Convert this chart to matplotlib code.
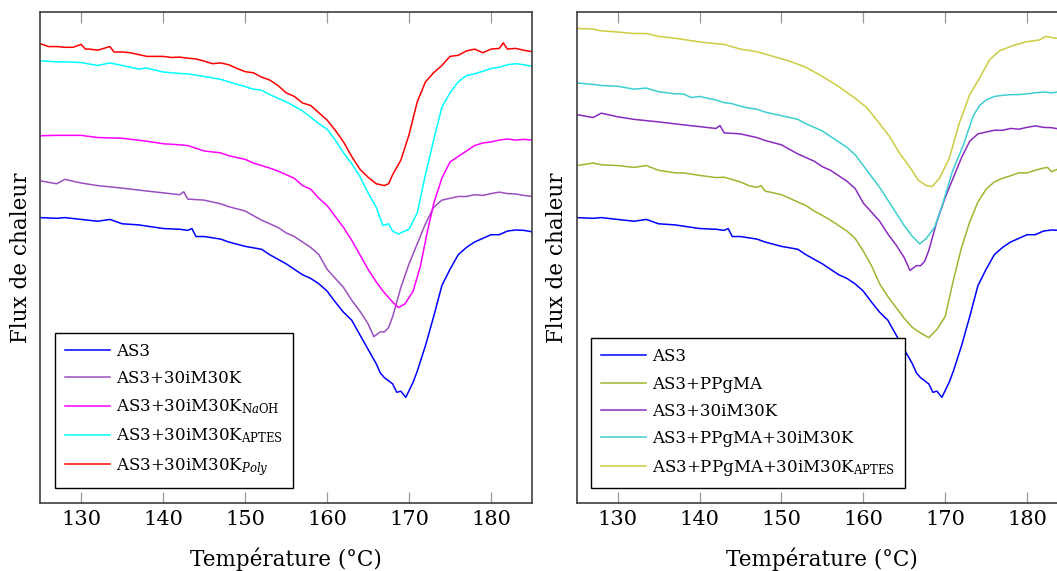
import numpy as np
import matplotlib
matplotlib.use("Agg")
import matplotlib.pyplot as plt

plt.rcParams['font.family'] = ['DejaVu Serif']
plt.rcParams['mathtext.fontset'] = 'dejavuserif'

# courbes DSC (flux en unites arbitraires)
T_as3 = [125, 127, 128, 130, 132, 133.5, 135, 137, 140, 142, 143, 143.5, 144, 145, 147, 148, 150, 152, 153, 155,
         157, 158, 159, 160, 161, 162, 163, 164, 165, 166, 166.5, 167, 168, 168.5, 169, 169.6, 170.5, 171, 172, 173,
         174, 175, 176, 177, 178, 179, 180, 181, 182, 183, 184, 185]
F_as3 = [78.5, 78.3, 78.5, 78.0, 77.5, 78.0, 76.8, 76.5, 75.5, 75.3, 75.0, 75.5, 73.3, 73.3, 72.6, 71.8, 70.6, 69.8, 68.3, 65.8,
         62.8, 61.8, 60.3, 58.3, 55.3, 52.5, 50.3, 46.3, 42.3, 38.3, 35.8, 34.5, 32.8, 30.5, 30.8, 29.1, 33.3, 36.3, 43.3, 51.3,
         59.8, 64.3, 68.3, 70.3, 71.8, 72.8, 73.8, 73.8, 74.8, 75.1, 75.0, 74.6]

T_30i = [125, 127, 128, 130, 132, 135, 138, 140, 142, 142.5, 143, 145, 147, 148, 150, 152, 153, 154, 155, 156,
         157, 158, 159, 160, 161, 162, 163, 164, 165, 165.7, 166.5, 167, 167.5, 168, 169, 170, 171, 172, 173, 174,
         175, 176, 177, 178, 179, 180, 181, 182, 183, 184, 185]
F_30i = [88.6, 87.8, 89.0, 88.0, 87.3, 86.6, 85.8, 85.3, 84.8, 85.6, 83.6, 83.3, 82.3, 81.5, 80.3, 77.8, 76.8, 75.8, 74.3, 73.3,
         71.8, 70.3, 68.3, 64.3, 61.8, 59.3, 55.8, 52.8, 49.3, 45.8, 47.1, 47.1, 48.3, 51.3, 59.3, 65.8, 71.3, 76.8, 81.3, 83.3,
         83.8, 84.3, 84.3, 84.8, 84.6, 85.1, 85.5, 85.1, 85.0, 84.6, 84.3]

T_naoh = [125, 127, 130, 132, 135, 138, 140, 142, 143, 145, 147, 148, 150, 151, 152, 153, 154, 155, 156, 157,
          158, 159, 160, 161, 162, 163, 164, 165, 166, 167, 168, 168.7, 169.5, 170.5, 171.4, 172.2, 173, 174, 175, 176,
          177, 178, 179, 180, 181, 182, 183, 184, 185]
F_naoh = [101.0, 101.1, 101.1, 100.5, 100.3, 99.5, 98.8, 98.5, 98.3, 96.8, 96.3, 95.5, 94.5, 93.5, 92.8, 92.1, 91.3, 90.3, 89.3, 87.3,
          86.3, 83.8, 81.8, 78.8, 75.8, 72.3, 68.3, 64.3, 60.8, 57.8, 55.3, 53.8, 54.8, 58.3, 65.3, 74.3, 82.3, 89.3, 93.8, 95.3,
          96.8, 98.3, 99.0, 99.3, 99.8, 100.1, 99.8, 100.0, 99.8]

T_aptes = [125, 127, 128, 130, 132, 133.5, 135, 137, 138, 140, 142, 143, 145, 147, 148, 150, 151, 152, 153, 154,
           155, 156, 157, 158, 159, 160, 161, 162, 163, 164, 165, 166, 166.8, 167.5, 168, 168.7, 169.5, 170, 171, 172,
           173, 174, 175, 176, 177, 178, 179, 180, 181, 182, 183, 184, 185]
F_aptes = [121.6, 121.3, 121.3, 121.1, 120.3, 121.0, 120.3, 119.3, 119.6, 118.5, 118.1, 118.0, 117.3, 116.5, 115.8, 114.5, 113.8, 113.5, 112.3, 111.3,
           110.3, 109.1, 107.8, 106.1, 104.3, 102.8, 99.8, 96.3, 93.3, 89.8, 85.3, 81.3, 76.3, 76.8, 74.8, 74.0, 74.8, 75.3, 79.8, 90.3,
           99.8, 108.8, 112.8, 115.8, 117.5, 118.0, 118.7, 119.5, 119.8, 120.5, 120.8, 120.5, 120.1]

T_poly = [125, 126, 127, 128, 129, 130, 130.5, 131, 132, 133.5, 134, 135, 136, 137, 138, 140, 141, 142, 143, 144,
          145, 146, 147, 148, 149, 150, 151, 152, 153, 154, 155, 156, 157, 158, 159, 160, 161, 162, 163, 164,
          165, 166, 167, 167.5, 168, 169, 170, 171, 172, 173, 174, 175, 176, 177, 178, 179, 180, 181, 181.5, 182,
          183, 184, 185]
F_poly = [126.3, 125.5, 125.5, 125.3, 125.3, 126.1, 124.8, 124.8, 124.5, 125.5, 124.0, 124.0, 123.8, 123.3, 122.8, 122.8, 122.5, 122.6, 122.3, 122.1,
          121.5, 120.8, 121.0, 120.5, 119.5, 118.6, 118.3, 117.1, 116.3, 114.8, 112.8, 111.8, 110.0, 109.3, 107.3, 105.3, 102.5, 99.3, 95.3, 91.8,
          89.6, 87.8, 87.3, 87.8, 90.3, 94.3, 101.3, 110.3, 115.8, 118.3, 120.3, 122.8, 123.1, 124.3, 124.8, 123.8, 124.8, 125.0, 126.5, 124.8,
          125.0, 124.5, 124.1]

T_ppgma = [125, 127, 128, 130, 132, 133.5, 135, 137, 138, 140, 142, 143, 145, 146, 147, 147.5, 148, 150, 152, 153,
           154, 155, 156, 157, 158, 159, 160, 161, 162, 163, 164, 165, 166, 167, 168, 169, 170, 171, 172, 173,
           174, 175, 176, 177, 178, 179, 180, 181, 182, 182.5, 183, 184, 185]
F_ppgma = [92.8, 93.5, 93.0, 92.8, 92.3, 92.8, 91.5, 90.8, 90.8, 90.1, 89.5, 89.6, 88.3, 87.3, 86.8, 87.3, 85.8, 84.8, 82.8, 81.8,
           80.3, 79.1, 77.8, 76.3, 74.8, 72.8, 69.3, 65.3, 60.3, 56.8, 53.8, 50.8, 48.3, 46.8, 45.5, 47.8, 51.3, 61.3, 70.3, 77.3,
           82.8, 86.3, 88.3, 89.3, 90.0, 90.8, 90.8, 91.5, 92.1, 92.3, 91.1, 92.1, 91.3]

T_pp30i = [125, 127, 128, 130, 132, 133.5, 135, 137, 138, 139, 140, 141, 142, 143, 144, 145, 146, 147, 148, 150,
           152, 153, 154, 155, 156, 157, 158, 159, 160, 161, 162, 163, 164, 165, 166, 166.9, 167.7, 168.7, 169.7, 170.9,
           172.2, 173.4, 174.2, 175, 176, 177, 178, 179, 180, 181, 182, 183, 184, 185]
F_pp30i = [115.5, 115.1, 114.8, 114.6, 113.8, 114.1, 113.1, 112.5, 112.5, 111.5, 111.8, 111.3, 110.8, 110.1, 109.8, 109.1, 108.6, 108.3, 107.5, 106.5,
           105.5, 104.3, 103.3, 102.3, 100.8, 99.3, 97.8, 95.8, 92.8, 89.8, 86.8, 83.3, 79.8, 76.3, 73.3, 71.3, 72.8, 75.8, 82.3, 91.3,
           98.3, 106.3, 109.3, 110.8, 111.8, 112.1, 112.3, 112.3, 112.5, 112.8, 113.0, 112.8, 113.1, 112.8]

T_pp30i_aptes = [125, 127, 128, 130, 132, 133.5, 135, 137, 139, 141, 143, 145, 147, 149, 151, 153, 155, 157, 159, 160.4,
                 162, 163.2, 164.4, 165.7, 166.7, 167.7, 168.4, 169.3, 170.5, 171.7, 173, 174.2, 175.4, 176.6, 178.3, 179.9, 181.5, 182.3, 183.5, 185]
F_pp30i_aptes = [130.5, 130.3, 129.8, 129.5, 129.1, 129.1, 128.3, 127.8, 127.1, 126.5, 126.1, 124.8, 124.1, 122.8, 121.5, 119.8, 117.3, 114.5, 111.3, 108.8,
                 104.3, 100.8, 96.3, 92.3, 88.8, 87.3, 87.0, 89.3, 94.8, 104.3, 112.3, 116.8, 121.8, 124.3, 125.8, 126.8, 127.3, 128.3, 127.8, 127.8]

# decalage vertical de AS3+30iM30K dans le graphe de droite
offset_30i_right = 18.2

fig = plt.figure(figsize=(10.57, 5.71), dpi=100)
ax1 = fig.add_axes([0.0381, 0.1186, 0.4652, 0.8604])
ax2 = fig.add_axes([0.5456, 0.1186, 0.4648, 0.8604])

lw = 1.1
ax1.plot(T_as3, F_as3, color='#0000ff', lw=lw, label='AS3')
ax1.plot(T_30i, F_30i, color='#9b4fc0', lw=lw, label='AS3+30iM30K')
ax1.plot(T_naoh, F_naoh, color='#ff00ff', lw=lw, label=r'AS3+30iM30K$_{\mathrm{N}a\mathrm{OH}}$')
ax1.plot(T_aptes, F_aptes, color='#00ffff', lw=lw, label=r'AS3+30iM30K$_{\mathrm{APTES}}$')
ax1.plot(T_poly, F_poly, color='#ff0000', lw=lw, label=r'AS3+30iM30K$_{Poly}$')

ax2.plot(T_as3, F_as3, color='#0000ff', lw=lw, label='AS3')
ax2.plot(T_ppgma, F_ppgma, color='#99b82e', lw=lw, label='AS3+PPgMA')
ax2.plot(T_30i, np.array(F_30i) + offset_30i_right, color='#8a2bbf', lw=lw, label='AS3+30iM30K')
ax2.plot(T_pp30i, F_pp30i, color='#3ccfd2', lw=lw, label='AS3+PPgMA+30iM30K')
ax2.plot(T_pp30i_aptes, F_pp30i_aptes, color='#cccc40', lw=lw, label=r'AS3+PPgMA+30iM30K$_{\mathrm{APTES}}$')

for ax, lx in ((ax1, 0.030), (ax2, 0.030)):
    ax.set_xlim(125, 185)
    ax.set_ylim(0, 135)
    ax.set_xticks([130, 140, 150, 160, 170, 180])
    ax.set_yticks([])
    ax.tick_params(axis='x', direction='in', top=True, length=8, width=0.9, color='#999999',
                   labelsize=15, pad=5)
    for s in ax.spines.values():
        s.set_linewidth(1.2)
        s.set_color('#404040')
    ax.set_xlabel('Température (°C)', fontsize=15.5, labelpad=13)
    ax.set_ylabel('Flux de chaleur', fontsize=15.5, labelpad=6)
    leg = ax.legend(loc='lower left', bbox_to_anchor=(lx, 0.032), borderaxespad=0,
                    fontsize=12, handlelength=2.7, handletextpad=0.35, labelspacing=0.62,
                    fancybox=False, edgecolor='black', framealpha=1, borderpad=0.6)
    leg.get_frame().set_linewidth(1.0)

fig.savefig('out.png', dpi=100)
